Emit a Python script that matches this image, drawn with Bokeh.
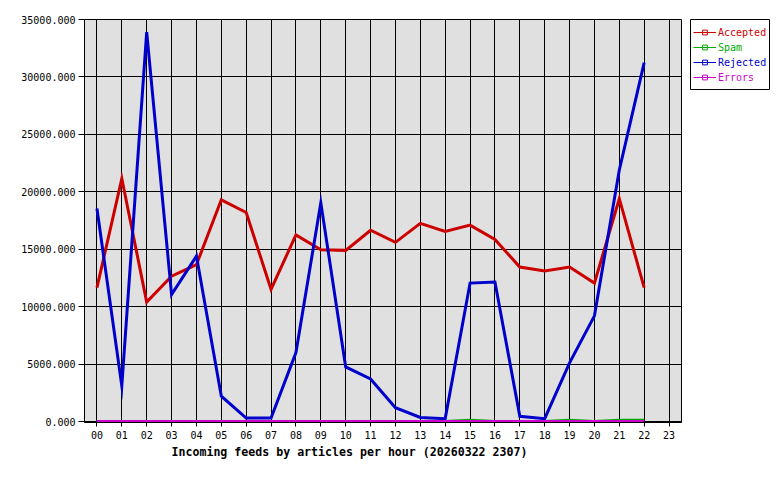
from bokeh.plotting import figure
from bokeh.layouts import row
from bokeh.models import (FixedTicker, PrintfTickFormatter, Legend, LegendItem,
                          Title, Range1d)
from bokeh.embed import file_html
from bokeh.resources import INLINE

hours = list(range(23))
hour_labels = ["%02d" % h for h in range(24)]
accepted = [11650, 21150, 10400, 12650, 13650, 19300, 18200, 11500, 16250, 14950,
            14900, 16650, 15600, 17250, 16550, 17100, 15850, 13450, 13100, 13450,
            12050, 19400, 11650]
spam = [0, 0, 0, 0, 0, 0, 0, 0, 0, 0, 0, 0, 0, 0, 0, 100, 0, 0, 0, 100, 0, 100, 100]
rejected = [18550, 3100, 33900, 11050, 14400, 2200, 300, 300, 6000, 19050,
            4750, 3700, 1200, 350, 250, 12050, 12150, 450, 250, 5100,
            9200, 21900, 31250]
errors = [0] * 23
y_ticks = [0, 5000, 10000, 15000, 20000, 25000, 30000, 35000]

MONO = "DejaVu Sans Mono"
colors = {"Accepted": "#cc0000", "Spam": "#00aa00", "Rejected": "#0000cc", "Errors": "#cc00cc"}
series = [("Accepted", accepted), ("Spam", spam), ("Rejected", rejected), ("Errors", errors)]

p = figure(frame_width=597, frame_height=403, output_backend="svg",
           toolbar_location=None, x_range=Range1d(-0.5, 23.5),
           y_range=Range1d(-87.06, 35000),
           min_border_left=84, min_border_top=19, min_border_right=9, min_border_bottom=50,
           background_fill_color="#e0e0e0", border_fill_color="white")
p.outline_line_color = "black"
p.outline_line_width = 1

p.xaxis.ticker = FixedTicker(ticks=list(range(24)))
p.xaxis.major_label_overrides = {i: hour_labels[i] for i in range(24)}
p.yaxis.ticker = FixedTicker(ticks=y_ticks)
p.yaxis.formatter = PrintfTickFormatter(format="%.3f")
for ax in (p.xaxis, p.yaxis):
    ax.axis_line_color = "black"
    ax.major_tick_line_color = "black"
    ax.minor_tick_line_color = None
    ax.major_tick_in = 0
    ax.major_label_text_font = MONO
    ax.major_label_text_font_size = "10px"
    ax.major_label_text_color = "black"
p.xaxis.major_tick_out = 4
p.xaxis.major_label_standoff = 4
p.yaxis.major_tick_out = 6
p.yaxis.major_label_standoff = 3

p.xgrid.ticker = FixedTicker(ticks=list(range(24)))
p.ygrid.ticker = FixedTicker(ticks=y_ticks)
for g in (p.xgrid, p.ygrid):
    g.grid_line_color = "black"
    g.grid_line_width = 1
    g.grid_line_alpha = 1

for name, vals in series:
    p.line(hours, vals, line_color=colors[name], line_width=3, line_join="miter")

p.add_layout(Title(text="Incoming feeds by articles per hour (20260322 2307)",
                   align="left", offset=87, text_font=MONO, text_font_size="11.6px",
                   text_font_style="bold", text_color="black", standoff=3), "below")

# legend panel (its own plot; the series are drawn outside its visible range,
# only the legend entries show)
lg = figure(frame_width=79, frame_height=71, output_backend="svg", toolbar_location=None,
            x_range=Range1d(1000, 1001), y_range=Range1d(1000, 1001),
            x_axis_type=None, y_axis_type=None,
            min_border_left=0, min_border_top=19, min_border_right=10, min_border_bottom=0,
            background_fill_color="white", border_fill_color="white")
lg.outline_line_color = "black"
lg.outline_line_width = 1
lg.grid.visible = False

for i, (name, vals) in enumerate(series):
    c = colors[name]
    r = lg.line(hours, vals, line_color=c, line_width=1)
    m = lg.scatter(hours, vals, marker="square", size=3,
                   fill_alpha=0, line_color=c, line_width=1)
    leg = Legend(items=[LegendItem(label=name, renderers=[r, m])],
                 location=(3, 52 - 15 * i), padding=0, margin=0, spacing=0,
                 glyph_width=23, glyph_height=12, label_height=12,
                 label_standoff=2, label_text_font=MONO, label_text_font_size="10px",
                 label_text_color=c, border_line_alpha=0,
                 background_fill_alpha=0)
    lg.add_layout(leg, "center")

layout = row(p, lg, spacing=0)
open("out.html", "w").write(file_html(layout, INLINE))
